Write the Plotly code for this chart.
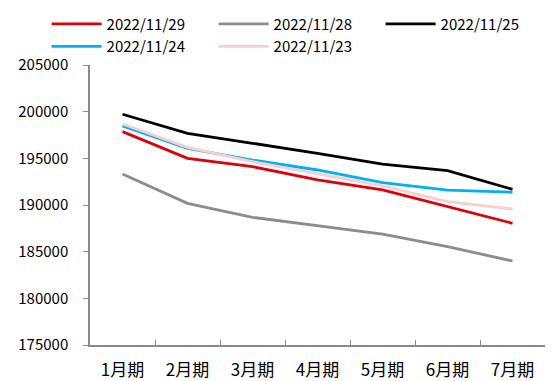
import plotly.graph_objects as go

categories = ["1月期", "2月期", "3月期", "4月期", "5月期", "6月期", "7月期"]
series_names = ["2022/11/29", "2022/11/28", "2022/11/25", "2022/11/24", "2022/11/23"]
v_1129 = [197860, 195000, 194110, 192680, 191610, 189820, 188040]
v_1128 = [193320, 190180, 188680, 187790, 186890, 185540, 184000]
v_1125 = [199720, 197680, 196610, 195540, 194390, 193680, 191680]
v_1124 = [198460, 196070, 194820, 193750, 192390, 191600, 191360]
v_1123 = [198680, 196180, 194640, 193320, 192040, 190360, 189570]
colors = ["#E0000B", "#8C8C8C", "#000000", "#00B0F0", "#F8CFCF"]
values = [v_1129, v_1128, v_1125, v_1124, v_1123]

FONT = "Noto Sans CJK SC"
fig = go.Figure()
for i in range(5):
    fig.add_trace(go.Scatter(x=categories, y=values[i], mode="lines", name=series_names[i],
                             line=dict(color=colors[i], width=2.8), legendrank=i + 1))

fig.update_layout(
    width=555, height=381,
    margin=dict(l=90, r=10, t=65, b=36, autoexpand=False),
    paper_bgcolor="white", plot_bgcolor="white",
    font=dict(family=FONT, size=15, color="#000000"),
    showlegend=True,
    legend=dict(orientation="h", x=-0.0954, y=1.2046,
                xanchor="left", yanchor="top", entrywidth=102, entrywidthmode="pixels",
                font=dict(family=FONT, size=15), tracegroupgap=0, itemwidth=50,
                bgcolor="rgba(0,0,0,0)"),
    xaxis=dict(range=[-0.5, 6.5], tickson="boundaries", ticks="inside", ticklen=5,
               tickcolor="#898989", showline=True, linecolor="#898989", linewidth=1.5,
               showgrid=False, zeroline=False, tickfont=dict(size=17), ticklabelstandoff=9),
    yaxis=dict(range=[175000, 205000], dtick=5000, ticks="outside", ticklen=5,
               tickcolor="#898989", showline=True, linecolor="#898989", linewidth=1.5,
               showgrid=False, zeroline=False, tickformat="d", tickfont=dict(size=15),
               ticklabelstandoff=12),
)
fig.write_html("out.html", config={"displayModeBar": False},
               post_script="document.body.style.margin='0';")
